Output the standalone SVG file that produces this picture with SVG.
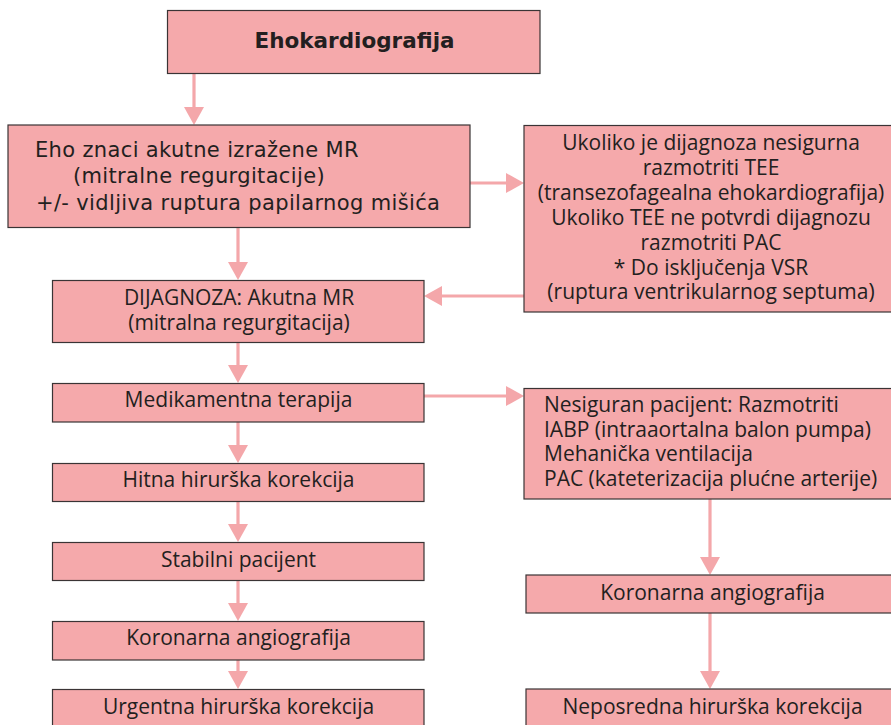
<svg xmlns="http://www.w3.org/2000/svg" width="891" height="725" viewBox="0 0 891 725">
<style>
.box{fill:#F5A9AB;stroke:#3a3435;stroke-width:1.2}
.t{font-family:"Open Sans","Liberation Sans",sans-serif;font-size:21px;fill:#231F20}
.c{text-anchor:middle}
.v{font-family:"DejaVu Sans","Liberation Sans",sans-serif;font-size:21px;letter-spacing:0.35px;fill:#231F20}
.vb{font-family:"DejaVu Sans","Liberation Sans",sans-serif;font-size:21.5px;font-weight:bold;fill:#231F20;text-anchor:middle}
.ln{stroke:#F4A7AA;stroke-width:3.2;fill:none}
</style>
<defs>
<marker id="ah" viewBox="0 0 18 20" refX="10" refY="10" markerWidth="18" markerHeight="20" markerUnits="userSpaceOnUse" orient="auto">
<path d="M0,0 L18,10 L0,20 Z" fill="#F4A7AA"/>
</marker>
</defs>
<g id="connectors">
<line class="ln" x1="194" y1="73" x2="194" y2="117" marker-end="url(#ah)"/>
<line class="ln" x1="470" y1="183" x2="516" y2="183" marker-end="url(#ah)"/>
<line class="ln" x1="238" y1="227" x2="238" y2="272" marker-end="url(#ah)"/>
<line class="ln" x1="524" y1="296" x2="432" y2="296" marker-end="url(#ah)"/>
<line class="ln" x1="238" y1="343" x2="238" y2="375" marker-end="url(#ah)"/>
<line class="ln" x1="424" y1="396" x2="516" y2="396" marker-end="url(#ah)"/>
<line class="ln" x1="238" y1="422" x2="238" y2="455" marker-end="url(#ah)"/>
<line class="ln" x1="238" y1="501" x2="238" y2="534" marker-end="url(#ah)"/>
<line class="ln" x1="238" y1="580" x2="238" y2="613" marker-end="url(#ah)"/>
<line class="ln" x1="238" y1="660" x2="238" y2="681" marker-end="url(#ah)"/>
<line class="ln" x1="710" y1="499" x2="710" y2="567" marker-end="url(#ah)"/>
<line class="ln" x1="710" y1="613" x2="710" y2="681" marker-end="url(#ah)"/>
</g>
<g id="n1">
<rect class="box" x="167.5" y="10.5" width="372.5" height="63"/>
<text class="vb" x="354.5" y="48">Ehokardiografija</text>
</g>
<g id="n2">
<rect class="box" x="8" y="125" width="462" height="102.5"/>
<text class="v" x="35" y="157">Eho znaci akutne izražene MR</text>
<text class="v" x="73" y="183">(mitralne regurgitacije)</text>
<text class="v" x="36" y="210">+/- vidljiva ruptura papilarnog mišića</text>
</g>
<g id="n3">
<rect class="box" x="524" y="125.5" width="372" height="186.5"/>
<text class="t c" x="711" y="150">Ukoliko je dijagnoza nesigurna</text>
<text class="t c" x="711" y="175">razmotriti TEE</text>
<text class="t c" x="711" y="200">(transezofagealna ehokardiografija)</text>
<text class="t c" x="711" y="225">Ukoliko TEE ne potvrdi dijagnozu</text>
<text class="t c" x="711" y="250">razmotriti PAC</text>
<text class="t c" x="711" y="275">* Do isključenja VSR</text>
<text class="t c" x="711" y="299">(ruptura ventrikularnog septuma)</text>
</g>
<g id="n4">
<rect class="box" x="52.5" y="280.5" width="371.5" height="62"/>
<text class="t c" x="239" y="305">DIJAGNOZA: Akutna MR</text>
<text class="t c" x="239" y="330">(mitralna regurgitacija)</text>
</g>
<g id="n5">
<rect class="box" x="52.5" y="383.5" width="371.5" height="38.5"/>
<text class="t c" x="238.5" y="407">Medikamentna terapija</text>
</g>
<g id="n6">
<rect class="box" x="52.5" y="463.5" width="371.5" height="38"/>
<text class="t c" x="238.5" y="487">Hitna hirurška korekcija</text>
</g>
<g id="n7">
<rect class="box" x="52.5" y="542.5" width="371.5" height="38"/>
<text class="t c" x="238.5" y="567">Stabilni pacijent</text>
</g>
<g id="n8">
<rect class="box" x="52.5" y="621.5" width="371.5" height="38.5"/>
<text class="t c" x="238.5" y="644.5">Koronarna angiografija</text>
</g>
<g id="n9">
<rect class="box" x="52.5" y="689.5" width="371.5" height="50"/>
<text class="t c" x="238.5" y="713.5">Urgentna hirurška korekcija</text>
</g>
<g id="n10">
<rect class="box" x="524" y="388.5" width="372" height="110.5"/>
<text class="t" x="544" y="411.5">Nesiguran pacijent: Razmotriti</text>
<text class="t" x="544" y="436.5">IABP (intraaortalna balon pumpa)</text>
<text class="t" x="544" y="461">Mehanička ventilacija</text>
<text class="t" x="544" y="485.5">PAC (kateterizacija plućne arterije)</text>
</g>
<g id="n11">
<rect class="box" x="526" y="575" width="370" height="38"/>
<text class="t c" x="712.5" y="600">Koronarna angiografija</text>
</g>
<g id="n12">
<rect class="box" x="526" y="689" width="370" height="50"/>
<text class="t c" x="712.5" y="713.5">Neposredna hirurška korekcija</text>
</g>
</svg>
